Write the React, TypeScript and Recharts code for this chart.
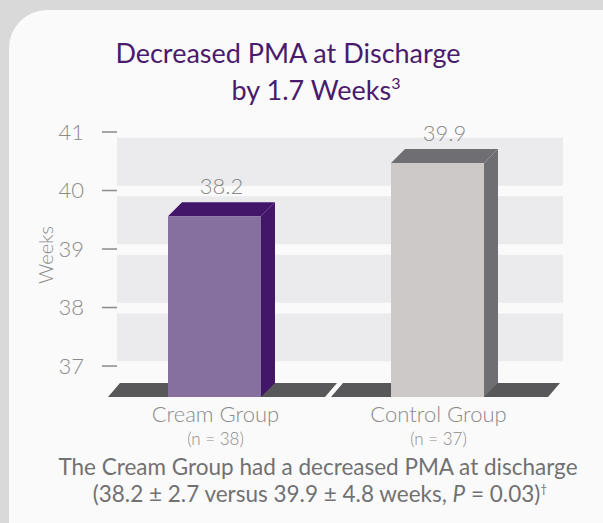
import React from "react";
import { Bar, BarChart, LabelList, ReferenceArea, XAxis, YAxis } from "recharts";

const groups = ["Cream Group", "Control Group"];
const groupSizes = ["(n = 38)", "(n = 37)"];
// printed values above the bars
const reportedWeeks = [38.2, 39.9];
// heights the bars actually reach on the printed axis (the art is not to scale)
const drawnWeeks = [39.8, 40.71];
const yTicks = [37, 38, 39, 40, 41];
const frontColors = ["#8670a0", "#cdc9c8"];
const shadeColors = ["#43166a", "#6f6e72"];

const data = groups.map((group, i) => ({
  group,
  drawn: drawnWeeks[i],
  reported: reportedWeeks[i],
}));

const GREY = "#8a8a8a";
const FONT = "Lato, 'Open Sans', sans-serif";
const DEPTH_X = 14;
const DEPTH_Y = 14;

function Bar3D(props: any) {
  const { x, y, width, height, index } = props;
  const bottom = y + height;
  const cx = x + width / 2;
  const slabHalf = 108.5;
  const front = frontColors[index];
  const shade = shadeColors[index];
  return (
    <g>
      <polygon
        points={`${cx - slabHalf},${bottom} ${cx + slabHalf},${bottom} ${cx + slabHalf - 12},${bottom + DEPTH_Y} ${cx - slabHalf - 12},${bottom + DEPTH_Y}`}
        fill="#58585a"
      />
      <polygon
        points={`${x},${y} ${x + width},${y} ${x + width - DEPTH_X},${y + DEPTH_Y} ${x - DEPTH_X},${y + DEPTH_Y}`}
        fill={shade}
      />
      <polygon
        points={`${x + width},${y} ${x + width},${bottom} ${x + width - DEPTH_X},${bottom + DEPTH_Y} ${x + width - DEPTH_X},${y + DEPTH_Y}`}
        fill={shade}
      />
      <rect x={x - DEPTH_X} y={y + DEPTH_Y} width={width} height={height} fill={front} />
    </g>
  );
}

function GroupTick(props: any) {
  const { x, y, payload, index } = props;
  return (
    <g fontFamily={FONT} fontWeight={300} fill={GREY}>
      <text x={x - 13} y={y + 39} textAnchor="middle" fontSize={22}>
        {payload.value}
      </text>
      <text x={x - 13} y={y + 62} textAnchor="middle" fontSize={17}>
        {groupSizes[index]}
      </text>
    </g>
  );
}

function ValueLabel(props: any) {
  const { x, y, width, value } = props;
  return (
    <text
      x={x + width / 2 - 7}
      y={y - 8}
      textAnchor="middle"
      fontFamily={FONT}
      fontWeight={300}
      fontSize={22}
      fill={GREY}
    >
      {value.toFixed(1)}
    </text>
  );
}

export default function App() {
  return (
    <div
      style={{
        position: "absolute",
        left: 0,
        top: 0,
        width: 603,
        height: 523,
        background: "#d9d9d9",
        overflow: "hidden",
      }}
    >
      <div
        style={{
          position: "absolute",
          left: 9,
          top: 10,
          right: 0,
          bottom: 0,
          background: "#fafafa",
          borderTopLeftRadius: 38,
        }}
      />
      <div style={{ position: "absolute", left: 0, top: 0 }}>
        <BarChart
          width={603}
          height={523}
          data={data}
          margin={{ top: 132, right: 40, left: 57, bottom: 60 }}
          barSize={93}
        >
          {yTicks.slice(0, -1).map((t) => (
            <ReferenceArea
              key={t}
              y1={t + 0.08}
              y2={t + 0.9}
              fill="#ebebed"
              fillOpacity={1}
              stroke="none"
              ifOverflow="visible"
            />
          ))}
          <XAxis
            dataKey="group"
            axisLine={false}
            tickLine={false}
            tickSize={0}
            tickMargin={0}
            height={80}
            interval={0}
            tick={<GroupTick />}
          />
          <YAxis
            type="number"
            domain={[36.71, 41]}
            ticks={yTicks}
            width={60}
            axisLine={false}
            tickSize={15}
            tickMargin={18}
            tickLine={{ stroke: GREY, strokeWidth: 1.5 }}
            tick={{ fill: GREY, fontSize: 22, fontFamily: FONT, fontWeight: 300 }}
          />
          <Bar dataKey="drawn" shape={<Bar3D />} isAnimationActive={false}>
            <LabelList dataKey="reported" content={<ValueLabel />} />
          </Bar>
        </BarChart>
      </div>
      <svg
        width={603}
        height={523}
        style={{ position: "absolute", left: 0, top: 0, pointerEvents: "none" }}
        fontFamily={FONT}
      >
        <text x={288} y={63} textAnchor="middle" fontSize={27} fill="#4a1b6d">
          Decreased PMA at Discharge
        </text>
        <text x={316} y={100} textAnchor="middle" fontSize={27} fill="#4a1b6d">
          by 1.7 Weeks
          <tspan fontSize={16} dy={-11}>
            3
          </tspan>
        </text>
        <text
          x={0}
          y={0}
          transform="translate(53 255) rotate(-90)"
          textAnchor="middle"
          fontSize={20}
          fontWeight={300}
          fill={GREY}
        >
          Weeks
        </text>
        <text x={318} y={475} textAnchor="middle" fontSize={22.5} fill="#717173">
          The Cream Group had a decreased PMA at discharge
        </text>
        <text x={320} y={502} textAnchor="middle" fontSize={22.5} fill="#717173">
          (38.2 ± 2.7 versus 39.9 ± 4.8 weeks, <tspan fontStyle="italic">P</tspan> = 0.03)
          <tspan fontSize={12} dy={-9}>
            †
          </tspan>
        </text>
      </svg>
    </div>
  );
}
